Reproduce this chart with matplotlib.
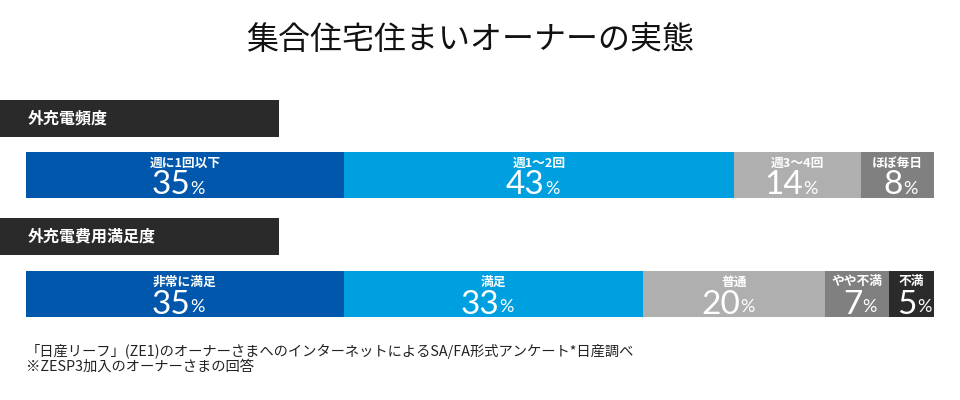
import matplotlib
matplotlib.use("Agg")
import matplotlib.pyplot as plt
import numpy as np
from matplotlib.patches import Rectangle

plt.rcParams['font.family'] = ['Noto Sans CJK JP', 'DejaVu Sans']

title = "集合住宅住まいオーナーの実態"

# frequency of charging away from home
freq_header = "外充電頻度"
freq_labels = ["週に1回以下", "週1〜2回", "週3〜4回", "ほぼ毎日"]
freq_values = [35, 43, 14, 8]
freq_colors = ["#0057ab", "#00a0e0", "#afafaf", "#808080"]

# satisfaction with charging cost
cost_header = "外充電費用満足度"
cost_labels = ["非常に満足", "満足", "普通", "やや不満", "不満"]
cost_values = [35, 33, 20, 7, 5]
cost_colors = ["#0057ab", "#00a0e0", "#afafaf", "#808080", "#2b2b2b"]

notes = ["「日産リーフ」(ZE1)のオーナーさまへのインターネットによるSA/FA形式アンケート*日産調べ",
         "※ZESP3加入のオーナーさまの回答"]

W, H = 960, 400
fig = plt.figure(figsize=(W / 100, H / 100), dpi=100)

# background axes in pixel coordinates for headers and notes
bg = fig.add_axes([0, 0, 1, 1])
bg.set_xlim(0, W)
bg.set_ylim(H, 0)
bg.axis("off")

# bar axes: x in percent, y in pixels
ax = fig.add_axes([26 / W, 0, 908 / W, 1])
ax.set_xlim(0, 100)
ax.set_ylim(H, 0)
ax.axis("off")

bg.text(470, 40, title, ha="center", va="center", fontsize=23, color="#111111")

num_font = ["Lato", "DejaVu Sans"]


def draw_block(header, header_y, labels, values, colors, bar_y):
    bg.add_patch(Rectangle((0, header_y), 279, 37, color="#2a2a2a", lw=0))
    bg.text(28, header_y + 18.5, header, ha="left", va="center",
            fontsize=11.5, fontweight="bold", color="white")
    lefts = np.concatenate([[0], np.cumsum(values)[:-1]])
    ax.barh(bar_y + 23, values, left=lefts, height=46, color=colors, lw=0)
    for lab, v, l in zip(labels, values, lefts):
        cx = l + v / 2
        ax.text(cx, bar_y + 11, lab, ha="center", va="center", fontsize=9.2,
                fontweight="bold", color="white")
        ax.annotate(str(v), (cx, bar_y + 33.5), ha="right", va="center",
                    fontsize=24, color="white", fontweight="normal",
                    family=num_font, xytext=(4, 0), textcoords="offset points")
        ax.annotate("%", (cx, bar_y + 36.5), ha="left", va="center",
                    fontsize=13, color="white", fontweight="normal",
                    family=num_font, xytext=(4.2, 0), textcoords="offset points")


draw_block(freq_header, 100, freq_labels, freq_values, freq_colors, 152)
draw_block(cost_header, 218, cost_labels, cost_values, cost_colors, 271)

for i, n in enumerate(notes):
    bg.text(26, 351 + i * 16, n, ha="left", va="center", fontsize=10.3,
            color="#222222")

fig.savefig("out.png", dpi=100)
